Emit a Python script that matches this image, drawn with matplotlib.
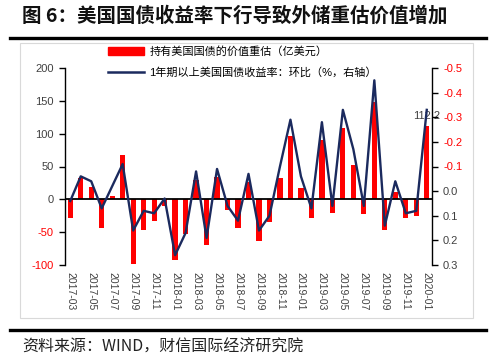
import matplotlib
matplotlib.use("Agg")
import matplotlib.pyplot as plt
import numpy as np
import pandas as pd
from matplotlib.lines import Line2D
from matplotlib.patches import Rectangle

plt.rcParams['font.family'] = ['Liberation Sans', 'Noto Sans CJK SC', 'DejaVu Sans']

months = [p.strftime('%Y-%m') for p in pd.period_range('2017-03', '2020-01', freq='M')]
revaluation = [-28, 33, 19, -44, 5, 68, -98, -46, -33, -10, -93, -53, 29, -70, 34, -17,
               -43, 26, -63, -34, 32, 97, 17, -28, 91, -21, 108, 53, -22, 148, -46, 11,
               -28, -26, 112.2]
yield_chg = [0.04, -0.06, -0.04, 0.07, -0.02, -0.11, 0.16, 0.08, 0.09, 0.03, 0.26, 0.17,
             -0.08, 0.19, -0.09, 0.06, 0.12, -0.07, 0.16, 0.10, -0.10, -0.29, -0.06, 0.07,
             -0.28, 0.06, -0.33, -0.17, 0.06, -0.45, 0.14, -0.04, 0.09, 0.08, -0.33]
left_ticks = [-100, -50, 0, 50, 100, 150, 200]
right_ticks = [-0.5, -0.4, -0.3, -0.2, -0.1, 0.0, 0.1, 0.2, 0.3]

bar_label = '持有美国国债的价值重估（亿美元）'
line_label = '1年期以上美国国债收益率：环比（%，右轴）'
title = '图 6：美国国债收益率下行导致外储重估价值增加'
source = '资料来源：WIND，财信国际经济研究院'

RED = '#FF0000'
NAVY = '#1B2A5E'
GREY = '#404040'

fig = plt.figure(figsize=(5, 3.6), dpi=100)
W, H = 500, 360

# frame of the chart
fig.patches.append(Rectangle((20 / W, 1 - 318 / H), 453 / W, 275 / H, transform=fig.transFigure,
                             fill=False, edgecolor='#D9D9D9', lw=0.8))

ax = fig.add_axes([65 / W, 1 - 265 / H, (432 - 65) / W, (265 - 68) / H])
x = np.arange(len(months))
ax.bar(x, revaluation, width=0.5, color=RED, zorder=2, label=bar_label)
ax.axhline(0, color='black', lw=1.3, zorder=3)
ax.set_xlim(-0.5, len(months) - 0.5)
ax.set_ylim(-100, 200)
ax.set_yticks(left_ticks)
ax.set_yticklabels([str(t) for t in left_ticks], fontsize=8)
for t, lab in zip(left_ticks, ax.get_yticklabels()):
    lab.set_color(RED if t < 0 else GREY)
ax.set_xticks(x[::2])
ax.set_xticklabels(months[::2], rotation=-90, fontsize=7.5, color=GREY)
ax.tick_params(axis='x', length=0, pad=5)
ax.tick_params(axis='y', direction='out', length=4, width=1, color='black', pad=4)
for s in ['top', 'bottom', 'right']:
    ax.spines[s].set_visible(False)
ax.spines['left'].set_color('black')
ax.spines['left'].set_linewidth(1)
ax.patch.set_visible(False)

ax.text(x[-1], revaluation[-1] + 7, '112.2', ha='center', va='bottom', fontsize=8, color=GREY, zorder=5)

ax2 = ax.twinx()
ax2.plot(x, yield_chg, color=NAVY, lw=1.7, zorder=4, label=line_label)
ax2.set_ylim(0.3, -0.5)
ax2.set_yticks(right_ticks)
ax2.set_yticklabels([f'{t:.1f}' for t in right_ticks], fontsize=8)
for t, lab in zip(right_ticks, ax2.get_yticklabels()):
    lab.set_color(RED if t < 0 else GREY)
ax2.tick_params(axis='y', direction='out', length=4, width=1, color='black', pad=4)
for s in ['top', 'bottom', 'left']:
    ax2.spines[s].set_visible(False)
ax2.spines['right'].set_color('black')
ax2.spines['right'].set_linewidth(1)

handles = [Rectangle((0, 0), 1, 1, color=RED), Line2D([0], [0], color=NAVY, lw=1.8)]
fig.legend(handles, [bar_label, line_label], loc='upper left',
           bbox_to_anchor=(104 / W, 1 - 42 / H), frameon=False, fontsize=8,
           handlelength=3.2, handleheight=0.7, labelspacing=0.9, handletextpad=0.5,
           borderaxespad=0)

# title and rules
fig.text(22 / W, 1 - 16 / H, title, fontsize=14, fontweight='bold', ha='left', va='center',
         family=['Noto Sans CJK SC', 'DejaVu Sans'], color='#111111')
fig.lines.append(Line2D([10 / W, 486 / W], [1 - 38 / H, 1 - 38 / H], transform=fig.transFigure,
                        color='black', lw=2.4))
fig.lines.append(Line2D([10 / W, 486 / W], [1 - 330 / H, 1 - 330 / H], transform=fig.transFigure,
                        color='black', lw=2.4))
fig.text(22 / W, 1 - 347 / H, source, fontsize=11.5, ha='left', va='center', style='italic',
         family=['Noto Sans CJK SC', 'DejaVu Sans'], color='#222222')

fig.savefig('out.png', dpi=100)
